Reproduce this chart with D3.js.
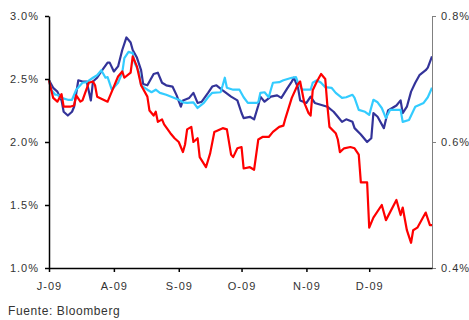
<!DOCTYPE html>
<html>
<head>
<meta charset="utf-8">
<script src="https://cdn.jsdelivr.net/npm/d3@7"></script>
<style>
  body { margin: 0; background: #fff; }
  svg { display: block; font-family: "Liberation Sans", Arial, sans-serif; }
  .tick text { fill: #333; font-size: 11px; letter-spacing: 1px; }
</style>
</head>
<body>
<div id="chart"></div>
<script>
// Month ticks (Jul-Dec 2009) and their labels
const monthTicks = ['2009-07-01', '2009-08-01', '2009-09-01', '2009-10-01', '2009-11-01', '2009-12-01'];
const monthLabels = ['J-09', 'A-09', 'S-09', 'O-09', 'N-09', 'D-09'];
const leftTicks = [1.0, 1.5, 2.0, 2.5, 3.0];
const rightTicks = [0.4, 0.6, 0.8];

// Dark blue series (left axis, %)
const navySeries = [
  ['07-01', 2.49], ['07-03', 2.43], ['07-05', 2.40], ['07-07', 2.33], ['07-08', 2.24],
  ['07-10', 2.21], ['07-12', 2.24], ['07-13', 2.28], ['07-15', 2.49], ['07-17', 2.48],
  ['07-19', 2.48], ['07-21', 2.33], ['07-22', 2.48], ['07-24', 2.51], ['07-26', 2.56],
  ['07-29', 2.63], ['07-30', 2.63], ['08-01', 2.56], ['08-03', 2.60], ['08-05', 2.73],
  ['08-07', 2.83], ['08-09', 2.79], ['08-10', 2.73], ['08-12', 2.67], ['08-14', 2.57],
  ['08-15', 2.46], ['08-17', 2.45], ['08-20', 2.54], ['08-22', 2.55], ['08-24', 2.47],
  ['08-26', 2.45], ['08-29', 2.44], ['08-31', 2.37], ['09-02', 2.28], ['09-03', 2.33],
  ['09-06', 2.35], ['09-08', 2.39], ['09-10', 2.31], ['09-12', 2.32], ['09-15', 2.39],
  ['09-17', 2.44], ['09-19', 2.45], ['09-22', 2.41], ['09-26', 2.36], ['09-29', 2.33],
  ['10-01', 2.23], ['10-02', 2.19], ['10-05', 2.20], ['10-07', 2.18], ['10-09', 2.29],
  ['10-10', 2.36], ['10-12', 2.32], ['10-15', 2.36], ['10-18', 2.37], ['10-20', 2.35],
  ['10-23', 2.43], ['10-25', 2.48], ['10-26', 2.51], ['10-28', 2.43], ['10-29', 2.33],
  ['11-01', 2.31], ['11-03', 2.36], ['11-05', 2.31], ['11-09', 2.29], ['11-11', 2.28],
  ['11-14', 2.24], ['11-16', 2.20], ['11-18', 2.16], ['11-20', 2.18], ['11-23', 2.16],
  ['11-24', 2.11], ['11-27', 2.06], ['11-30', 2.00], ['12-02', 2.03], ['12-03', 2.23],
  ['12-05', 2.20], ['12-08', 2.11], ['12-10', 2.25], ['12-14', 2.29], ['12-16', 2.33],
  ['12-17', 2.23], ['12-19', 2.28], ['12-21', 2.40], ['12-23', 2.47], ['12-25', 2.53],
  ['12-28', 2.57], ['12-29', 2.59], ['12-31', 2.68],
];

// Light blue series (right axis, %)
const cyanSeries = [
  ['07-01', 0.698], ['07-02', 0.683], ['07-04', 0.675], ['07-05', 0.675], ['07-07', 0.670],
  ['07-10', 0.667], ['07-12', 0.667], ['07-14', 0.683], ['07-17', 0.694], ['07-19', 0.695],
  ['07-22', 0.702], ['07-24', 0.706], ['07-26', 0.714], ['07-28', 0.702], ['07-29', 0.703],
  ['07-31', 0.683], ['08-03', 0.694], ['08-05', 0.710], ['08-06', 0.733], ['08-08', 0.743],
  ['08-10', 0.741], ['08-11', 0.725], ['08-13', 0.711], ['08-14', 0.690], ['08-17', 0.683],
  ['08-19', 0.679], ['08-21', 0.683], ['08-23', 0.678], ['08-26', 0.675], ['08-29', 0.671],
  ['09-01', 0.667], ['09-03', 0.663], ['09-05', 0.662], ['09-08', 0.663], ['09-10', 0.654],
  ['09-13', 0.662], ['09-15', 0.671], ['09-17', 0.678], ['09-21', 0.679], ['09-22', 0.690],
  ['09-23', 0.702], ['09-24', 0.686], ['09-27', 0.683], ['09-30', 0.683], ['10-02', 0.671],
  ['10-04', 0.662], ['10-08', 0.662], ['10-09', 0.663], ['10-10', 0.678], ['10-12', 0.679],
  ['10-14', 0.671], ['10-15', 0.683], ['10-16', 0.694], ['10-19', 0.695], ['10-21', 0.698],
  ['10-25', 0.702], ['10-27', 0.703], ['10-28', 0.694], ['10-30', 0.683], ['11-03', 0.683],
  ['11-04', 0.694], ['11-06', 0.698], ['11-08', 0.694], ['11-10', 0.687], ['11-13', 0.686],
  ['11-15', 0.678], ['11-18', 0.670], ['11-20', 0.671], ['11-23', 0.675], ['11-24', 0.670],
  ['11-26', 0.651], ['11-29', 0.648], ['12-01', 0.643], ['12-03', 0.667], ['12-05', 0.663],
  ['12-07', 0.654], ['12-09', 0.638], ['12-11', 0.651], ['12-16', 0.651], ['12-17', 0.632],
  ['12-20', 0.635], ['12-23', 0.656], ['12-27', 0.662], ['12-29', 0.671], ['12-31', 0.686],
];

// Red series (left axis, %)
const redSeries = [
  ['07-01', 2.49], ['07-03', 2.35], ['07-05', 2.32], ['07-07', 2.38], ['07-08', 2.28],
  ['07-11', 2.28], ['07-13', 2.29], ['07-14', 2.37], ['07-16', 2.32], ['07-17', 2.33],
  ['07-20', 2.47], ['07-22', 2.48], ['07-23', 2.45], ['07-24', 2.36], ['07-29', 2.32],
  ['07-31', 2.40], ['08-03', 2.52], ['08-05', 2.56], ['08-06', 2.51], ['08-09', 2.55],
  ['08-10', 2.68], ['08-12', 2.60], ['08-14', 2.45], ['08-17', 2.36], ['08-18', 2.25],
  ['08-20', 2.21], ['08-21', 2.24], ['08-22', 2.16], ['08-24', 2.18], ['08-25', 2.14],
  ['08-28', 2.07], ['08-30', 2.03], ['09-01', 2.00], ['09-03', 1.92], ['09-04', 1.98],
  ['09-05', 2.10], ['09-07', 2.12], ['09-08', 2.00], ['09-10', 2.03], ['09-11', 1.88],
  ['09-14', 1.80], ['09-16', 1.91], ['09-18', 2.08], ['09-22', 2.11], ['09-24', 2.10],
  ['09-26', 1.90], ['09-27', 1.88], ['09-29', 1.95], ['10-01', 1.96], ['10-02', 1.79],
  ['10-05', 1.80], ['10-07', 1.78], ['10-09', 2.02], ['10-11', 2.04], ['10-14', 2.04],
  ['10-16', 2.08], ['10-19', 2.12], ['10-21', 2.13], ['10-22', 2.19], ['10-25', 2.35],
  ['10-28', 2.46], ['10-29', 2.48], ['10-31', 2.31], ['11-02', 2.23], ['11-03', 2.21],
  ['11-04', 2.41], ['11-06', 2.48], ['11-08', 2.54], ['11-10', 2.50], ['11-11', 2.29],
  ['11-12', 2.12], ['11-15', 2.07], ['11-16', 2.02], ['11-17', 1.92], ['11-19', 1.95],
  ['11-22', 1.96], ['11-24', 1.95], ['11-26', 1.90], ['11-27', 1.68], ['11-30', 1.68],
  ['12-01', 1.32], ['12-03', 1.40], ['12-07', 1.50], ['12-09', 1.38], ['12-14', 1.54],
  ['12-16', 1.42], ['12-17', 1.48], ['12-19', 1.30], ['12-21', 1.20], ['12-22', 1.30],
  ['12-24', 1.32], ['12-28', 1.44], ['12-30', 1.34], ['12-31', 1.34],
];

const parseDay = d3.utcParse('%Y-%m-%d');
const toPoints = (series) => series.map(([md, v]) => ({ date: parseDay('2009-' + md), value: v }));

const drawChart = () => {
  const totalWidth = 469;
  const totalHeight = 320;
  const plot = { left: 49, right: 432, top: 16, bottom: 268 };

  const xScale = d3
    .scaleUtc()
    .domain([parseDay('2009-07-01'), parseDay('2009-12-31')])
    .range([plot.left, plot.right]);

  const yLeft = d3.scaleLinear().domain([1.0, 3.0]).range([plot.bottom, plot.top]);
  const yRight = d3.scaleLinear().domain([0.4, 0.8]).range([plot.bottom, plot.top]);

  const svg = d3
    .select('#chart')
    .append('svg')
    .attr('width', totalWidth)
    .attr('height', totalHeight);

  // Series lines
  const lineLeft = d3.line().x((d) => xScale(d.date)).y((d) => yLeft(d.value));
  const lineRight = d3.line().x((d) => xScale(d.date)).y((d) => yRight(d.value));

  const lines = [
    { points: toPoints(navySeries), line: lineLeft, color: '#333399' },
    { points: toPoints(cyanSeries), line: lineRight, color: '#33CCFF' },
    { points: toPoints(redSeries), line: lineLeft, color: '#FF0000' },
  ];

  svg
    .selectAll('path.series')
    .data(lines)
    .join('path')
    .attr('class', 'series')
    .attr('d', (d) => d.line(d.points))
    .attr('fill', 'none')
    .attr('stroke', (d) => d.color)
    .attr('stroke-width', 2.2)
    .attr('stroke-linejoin', 'round');

  // Left axis
  svg
    .append('g')
    .attr('transform', `translate(${plot.left}, 0)`)
    .call(
      d3
        .axisLeft(yLeft)
        .tickValues(leftTicks)
        .tickFormat((d) => d.toFixed(1) + '%')
        .tickSize(4)
        .tickSizeOuter(0)
        .tickPadding(6)
    )
    .call((g) => g.selectAll('.domain, .tick line').attr('stroke', '#000').attr('stroke-width', 1.5));

  // Right axis
  svg
    .append('g')
    .attr('transform', `translate(${plot.right}, 0)`)
    .call(
      d3
        .axisRight(yRight)
        .tickValues(rightTicks)
        .tickFormat((d) => d.toFixed(1) + '%')
        .tickSize(4)
        .tickSizeOuter(0)
        .tickPadding(5)
    )
    .call((g) => g.selectAll('.domain, .tick line').attr('stroke', '#808080'));

  // Bottom axis
  svg
    .append('g')
    .attr('transform', `translate(0, ${plot.bottom})`)
    .call(
      d3
        .axisBottom(xScale)
        .tickValues(monthTicks.map(parseDay))
        .tickFormat((d, i) => monthLabels[i])
        .tickSize(4)
        .tickSizeOuter(0)
        .tickPadding(10)
    )
    .call((g) => g.selectAll('.domain, .tick line').attr('stroke', '#000').attr('stroke-width', 1.5));

  // Source note
  svg
    .append('text')
    .attr('x', 8)
    .attr('y', 315)
    .attr('fill', '#333')
    .style('font-size', '12px')
    .style('letter-spacing', '0.6px')
    .text('Fuente: Bloomberg');
};

drawChart();
</script>
</body>
</html>
